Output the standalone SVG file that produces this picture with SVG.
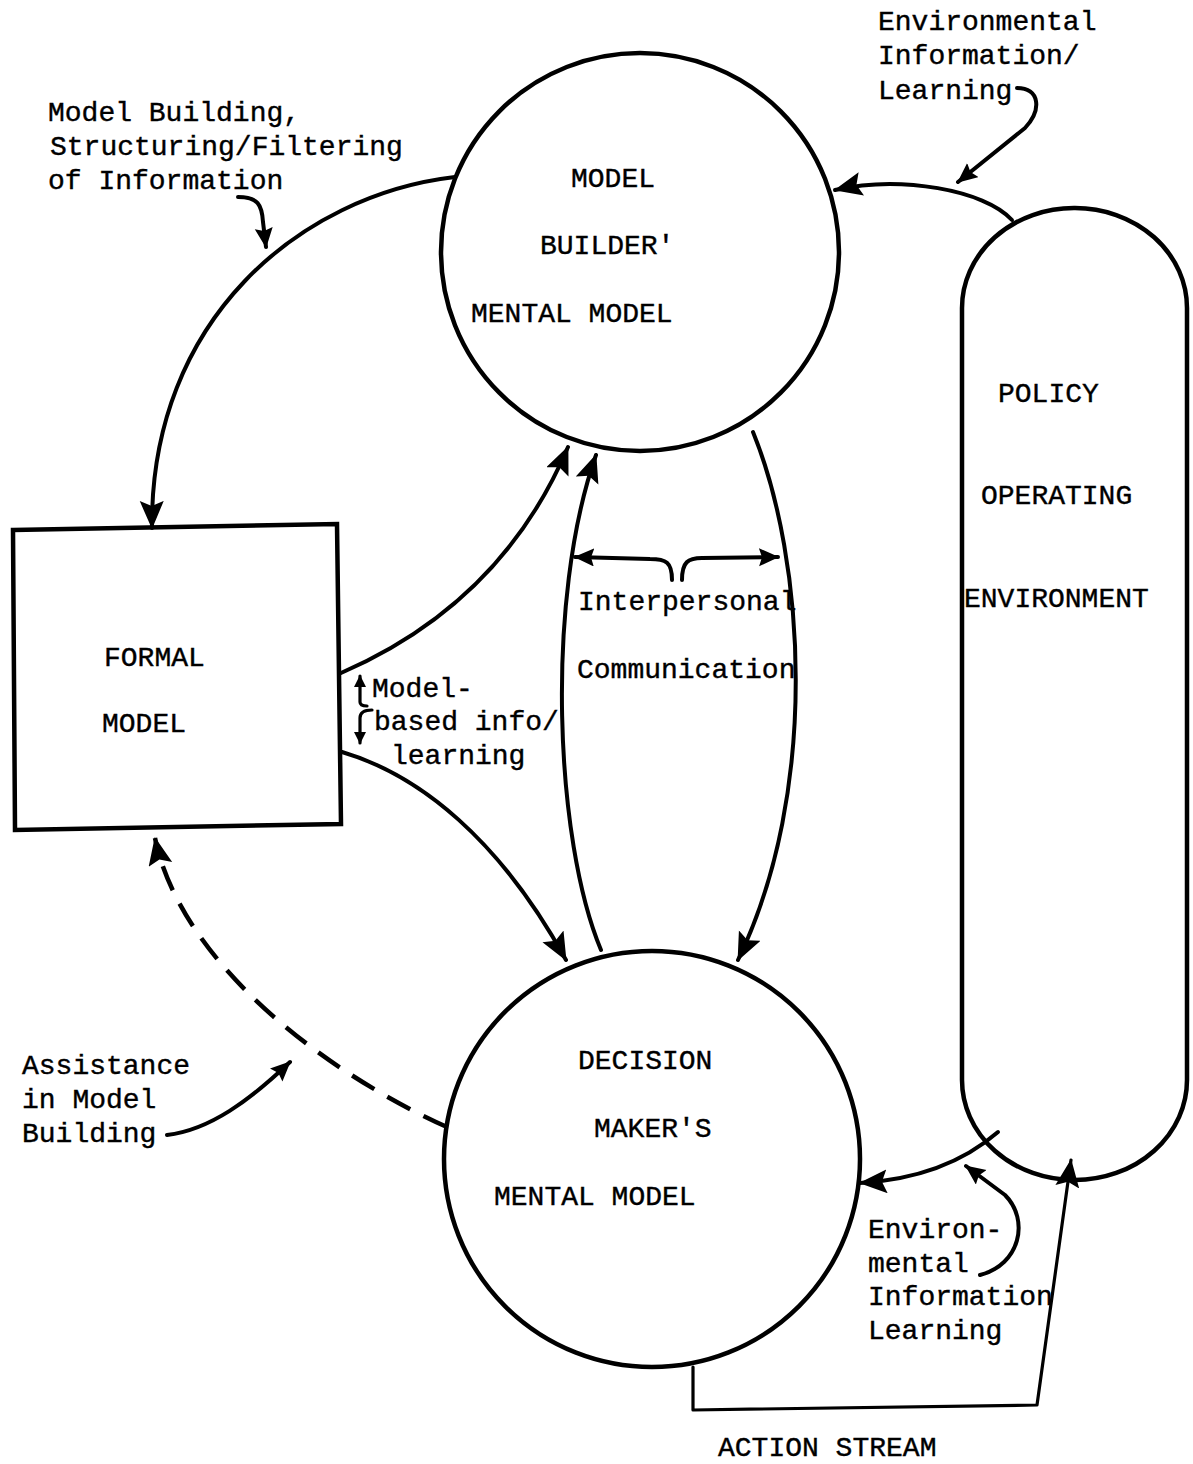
<svg xmlns="http://www.w3.org/2000/svg" width="1193" height="1464" viewBox="0 0 1193 1464">
  <style>
    text { font-family: "Liberation Mono", "Courier New", monospace; font-size: 28px; fill: #000; stroke: #000; stroke-width: 0.4; }
    .node { fill: none; stroke: #000; stroke-width: 4.5; }
    .edge { fill: none; stroke: #000; stroke-width: 4; stroke-linecap: round; stroke-linejoin: round; }
    .thin { stroke-width: 3.2; }
    .dash { stroke-dasharray: 26 15; stroke-linecap: butt; stroke-width: 4.5; }
  </style>
  <defs>
    <marker id="arrow" markerUnits="userSpaceOnUse" markerWidth="30" markerHeight="26" refX="27" refY="12" orient="auto">
      <path d="M0,0 L28,12 L0,24 L5,12 z" fill="#000"/>
    </marker>
    <marker id="arrow-sm" markerUnits="userSpaceOnUse" markerWidth="22" markerHeight="20" refX="19" refY="9" orient="auto">
      <path d="M0,0 L20,9 L0,18 L3,9 z" fill="#000"/>
    </marker>
    <marker id="arrow-xs" markerUnits="userSpaceOnUse" markerWidth="14" markerHeight="14" refX="11" refY="6" orient="auto">
      <path d="M0,0 L12,6 L0,12 z" fill="#000"/>
    </marker>
  </defs>

  <rect width="1193" height="1464" fill="#fff"/>

  <!-- connectors -->
  <g id="connectors">
    <!-- model builder -> formal model -->
    <path class="edge" d="M455,177 C300,195 150,320 152,528" marker-end="url(#arrow)"/>
    <!-- formal model -> model builder -->
    <path class="edge" d="M341,673 C440,630 520,560 568,447" marker-end="url(#arrow)"/>
    <!-- decision maker -> model builder -->
    <path class="edge" d="M601,950 C555,840 545,600 596,455" marker-end="url(#arrow)"/>
    <!-- model builder -> decision maker -->
    <path class="edge" d="M753,432 C805,560 820,790 738,960" marker-end="url(#arrow)"/>
    <!-- formal model -> decision maker -->
    <path class="edge" d="M342,752 C420,775 500,840 566,960" marker-end="url(#arrow)"/>
    <!-- decision maker -> formal model (dashed) -->
    <path class="edge dash" d="M447,1127 C320,1070 180,960 155,838" marker-end="url(#arrow)"/>
    <!-- environment -> model builder -->
    <path class="edge" d="M1012,220 C985,190 900,175 835,190" marker-end="url(#arrow)"/>
    <!-- environment -> decision maker -->
    <path class="edge" d="M998,1132 C960,1165 910,1180 860,1183" marker-end="url(#arrow)"/>
    <!-- action stream -->
    <path class="edge thin" d="M693,1367 L693,1410 L1037,1405 L1071,1160" marker-end="url(#arrow)"/>

    <!-- label pointers -->
    <path class="edge" d="M238,197 C258,197 262,205 263,222 L266,247" marker-end="url(#arrow-sm)"/>
    <path class="edge" d="M1017,88 C1040,88 1042,110 1025,128 L958,182" marker-end="url(#arrow-sm)"/>
    <path class="edge" d="M167,1135 C210,1130 250,1100 290,1062" marker-end="url(#arrow-sm)"/>
    <path class="edge" d="M980,1275 C1020,1265 1030,1220 1005,1195 L966,1166" marker-end="url(#arrow-sm)"/>

    <!-- interpersonal communication brace -->
    <path class="edge" d="M672,580 C672,562 666,559 650,559 L575,557" marker-end="url(#arrow-sm)"/>
    <path class="edge" d="M682,580 C682,562 688,558 702,558 L778,557" marker-end="url(#arrow-sm)"/>

    <!-- model-based info brace -->
    <path class="edge thin" d="M360,702 Q360,706 367,706 M360,702 L360,676" marker-end="url(#arrow-xs)"/>
    <path class="edge thin" d="M372,710 Q360,710 360,718 L360,743" marker-end="url(#arrow-xs)"/>
  </g>

  <!-- nodes -->
  <g id="model-builder">
    <circle class="node" cx="640" cy="252" r="199"/>
    <text x="571" y="187">MODEL</text>
    <text x="540" y="254">BUILDER'</text>
    <text x="471" y="322">MENTAL MODEL</text>
  </g>

  <g id="formal-model">
    <path class="node" d="M13,530 L337,524 L341,824 L15,830 z" stroke-width="4"/>
    <text x="104" y="666">FORMAL</text>
    <text x="102" y="732">MODEL</text>
  </g>

  <g id="decision-maker">
    <circle class="node" cx="652" cy="1159" r="208"/>
    <text x="578" y="1069">DECISION</text>
    <text x="594" y="1137">MAKER'S</text>
    <text x="494" y="1205">MENTAL MODEL</text>
  </g>

  <g id="policy-environment">
    <rect class="node" x="962" y="208" width="225" height="972" rx="112" ry="100" stroke-width="3.5"/>
    <text x="998" y="402">POLICY</text>
    <text x="981" y="504">OPERATING</text>
    <text x="964" y="607">ENVIRONMENT</text>
  </g>

  <!-- connector labels -->
  <g id="labels">
    <text x="48" y="121">Model Building,</text>
    <text x="50" y="155">Structuring/Filtering</text>
    <text x="48" y="189">of Information</text>

    <text x="878" y="30">Environmental</text>
    <text x="878" y="64">Information/</text>
    <text x="878" y="99">Learning</text>

    <text x="578" y="610">Interpersonal</text>
    <text x="577" y="678">Communication</text>

    <text x="372" y="697">Model-</text>
    <text x="374" y="730">based info/</text>
    <text x="391" y="764">learning</text>

    <text x="22" y="1074">Assistance</text>
    <text x="22" y="1108">in Model</text>
    <text x="22" y="1142">Building</text>

    <text x="868" y="1238">Environ-</text>
    <text x="868" y="1272">mental</text>
    <text x="868" y="1305">Information</text>
    <text x="868" y="1339">Learning</text>

    <text x="718" y="1456">ACTION STREAM</text>
  </g>
</svg>
